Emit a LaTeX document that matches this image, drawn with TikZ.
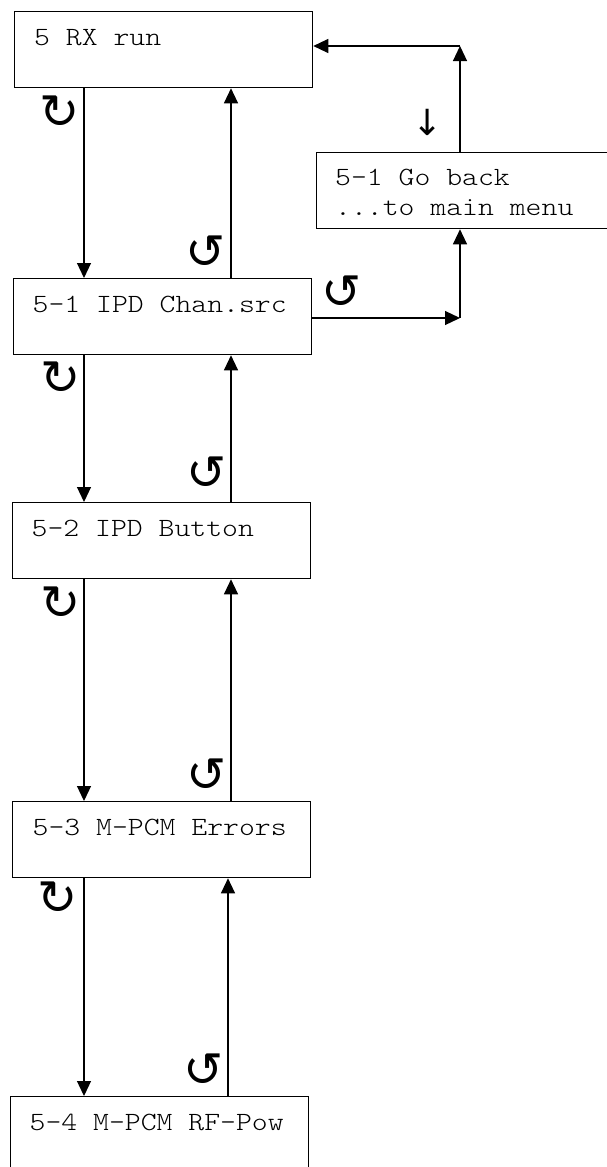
\documentclass[tikz,border=0pt]{standalone}
\usepackage{fontspec}
\newfontfamily\menufont{lmmonolt10-regular.otf}[FakeStretch=1.15]
\newfontfamily\symfont{DejaVu Sans}
\usetikzlibrary{arrows.meta}
\begin{document}
\begin{tikzpicture}[x=1pt,y=-1pt,
  menubox/.style={draw, line width=1.3pt, inner sep=0pt, anchor=north west, minimum width=298pt, minimum height=76pt},
  menutext/.style={anchor=base west, inner sep=0pt, font=\fontsize{26.3}{30}\selectfont\menufont},
  conn/.style={line width=1.2pt, -{Triangle[length=15pt,width=14pt]}},
  rot/.style={inner sep=0pt, font=\fontsize{48}{48}\selectfont\symfont}
]
\useasboundingbox (0,0) rectangle (606,1167);
% boxes
\node[menubox] (b1) at (14,11) {};
\node[menubox] (b2) at (13,278) {};
\node[menubox] (b3) at (12,502) {};
\node[menubox] (b4) at (12,801) {};
\node[menubox] (b5) at (10,1096) {};
\node[menubox, minimum width=310pt] (g) at (316,152) {};
% texts
\node[menutext] (t1) at (34,45) {5 RX run};
\node[menutext] (t2) at (32.5,312) {5-1 IPD Chan.src};
\node[menutext] (t3) at (31.5,536) {5-2 IPD Button};
\node[menutext] (t4) at (32.5,835) {5-3 M-PCM Errors};
\node[menutext] (t5) at (29.5,1130) {5-4 M-PCM RF-Pow};
\node[menutext] (g1) at (335,185) {5-1 Go back};
\node[menutext] (g2) at (335,215) {...to main menu};
% helper coordinates
\coordinate (xl) at (84,0);
\coordinate (xr) at (231,0);
\coordinate (xr5) at (228,0);
\coordinate (c1) at (460,46);
\coordinate (c2) at (460,318);
% vertical connectors
\draw[conn] (b1.south -| xl) -- (b2.north -| xl);
\draw[conn] (b2.north -| xr) -- (b1.south -| xr);
\draw[conn] (b2.south -| xl) -- (b3.north -| xl);
\draw[conn] (b3.north -| xr) -- (b2.south -| xr);
\draw[conn] (b3.south -| xl) -- (b4.north -| xl);
\draw[conn] (b4.north -| xr) -- (b3.south -| xr);
\draw[conn] (b4.south -| xl) -- (b5.north -| xl);
\draw[conn] (b5.north -| xr5) -- (b4.south -| xr5);
% go-back loop
\draw[conn] (g.north -| c1) -- (c1);
\draw[conn] (c1) -- (b1.east |- c1);
\draw[conn] (b2.east |- c2) -- (c2);
\draw[conn] (c2) -- (g.south -| c2);
% rotation symbols
\node[rot] (r1) at (60,112) {↻};
\node[rot] (r2) at (206,252) {↺};
\node[rot] (r3) at (342,292) {↺};
\node[rot] (r4) at (61,378) {↻};
\node[rot] (r5) at (207,473) {↺};
\node[rot] (r6) at (61,603) {↻};
\node[rot] (r7) at (207,775) {↺};
\node[rot] (r8) at (58,898) {↻};
\node[rot] (r9) at (204,1070) {↺};
\node[rot, font=\fontsize{36}{36}\selectfont\symfont] (dn) at (428,122) {↓};
\end{tikzpicture}
\end{document}
